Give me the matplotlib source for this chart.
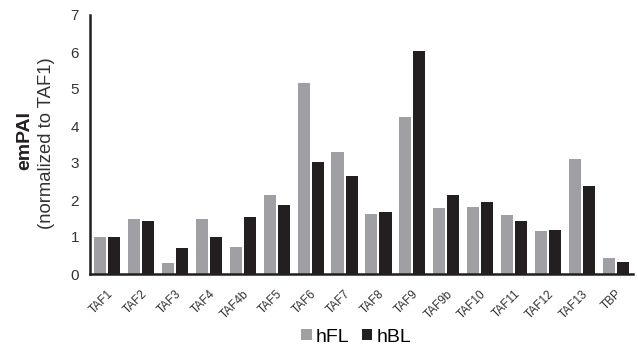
#!/usr/bin/env python3
"""
emPAI of TFIID subunits, hFL vs hBL.
"""
import matplotlib
matplotlib.use("Agg")
import matplotlib.pyplot as plt
import numpy as np

subunits = ["TAF1", "TAF2", "TAF3", "TAF4", "TAF4b", "TAF5", "TAF6", "TAF7",
            "TAF8", "TAF9", "TAF9b", "TAF10", "TAF11", "TAF12", "TAF13", "TBP"]
hfl = [1.0, 1.48, 0.30, 1.48, 0.73, 2.13, 5.17, 3.31,
       1.62, 4.25, 1.78, 1.80, 1.59, 1.16, 3.12, 0.43]
hbl = [1.0, 1.43, 0.70, 1.0, 1.53, 1.86, 3.02, 2.64,
       1.67, 6.03, 2.13, 1.94, 1.43, 1.18, 2.37, 0.32]

plt.rcParams["font.family"] = ["Liberation Sans", "DejaVu Sans"]

fig = plt.figure(figsize=(6.38, 3.5), dpi=100)
ax = fig.add_axes([90 / 638, 1 - 274 / 350, 543 / 638, 259 / 350])

x = np.arange(len(subunits))
w = 0.355
ax.bar(x - w / 2 - 0.03, hfl, w, color="#a0a0a4", label="hFL")
ax.bar(x + w / 2 + 0.03, hbl, w, color="#231f20", label="hBL")

ax.set_xlim(-0.5, len(subunits) - 0.5)
ax.set_ylim(0, 7)
ax.set_yticks(range(8))
ax.tick_params(axis="y", length=0, labelsize=11, labelcolor="#333333", pad=8)
ax.set_xticks(x)
ax.set_xticklabels(subunits, rotation=45, ha="right", rotation_mode="anchor",
                   fontsize=8.5, color="#333333")
ax.tick_params(axis="x", length=0, pad=10)
for side in ["top", "right"]:
    ax.spines[side].set_visible(False)
for side in ["left", "bottom"]:
    ax.spines[side].set_linewidth(1.8)
    ax.spines[side].set_color("#231f20")

fig.text(25 / 638, 1 - 141 / 350, "emPAI", rotation=90, ha="center", va="center",
         fontsize=14, fontweight="bold", color="#231f20")
fig.text(47 / 638, 1 - 143 / 350, "(normalized to TAF1)", rotation=90,
         ha="center", va="center", fontsize=13.3, color="#333333")

fig.legend(loc="center", bbox_to_anchor=(356 / 638, 1 - 337 / 350), ncol=2,
           frameon=False, fontsize=14, handlelength=0.55, handleheight=0.55,
           handletextpad=0.2, columnspacing=0.65, borderpad=0)

fig.savefig("out.png", dpi=100)
